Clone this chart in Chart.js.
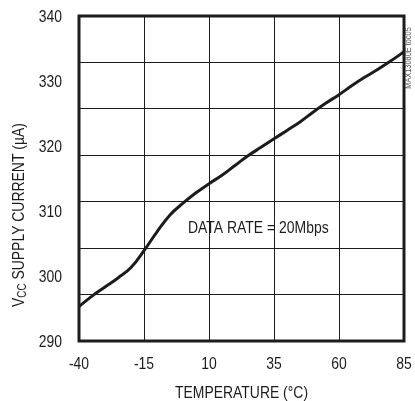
<!DOCTYPE html>
<html>
<head>
<meta charset="utf-8">
<script src="https://cdn.jsdelivr.net/npm/chart.js@4/dist/chart.umd.min.js"></script>
<style>
  html, body { margin: 0; padding: 0; background: #fff; }
  #wrap { width: 415px; height: 401px; }
</style>
</head>
<body>
<div id="wrap"><canvas id="c" width="415" height="401"></canvas></div>
<script>
// VCC supply current vs temperature (DATA RATE = 20Mbps)

const temperature = [-40, -35, -30, -25, -20, -15, -10, -5, 0, 5, 10, 15, 20,
                     25, 30, 35, 40, 45, 50, 55, 60, 65, 70, 75, 80, 85];
const supplyCurrent = [295.3, 296.9, 298.3, 299.7, 301.3, 303.9, 306.8, 309.4,
                       311.2, 312.8, 314.2, 315.5, 317.0, 318.5, 319.8, 321.1,
                       322.4, 323.7, 325.2, 326.6, 327.9, 329.3, 330.6, 331.8,
                       333.1, 334.5];

const xTicks = [-40, -15, 10, 35, 60, 85];
const yTicks = [290, 300, 310, 320, 330, 340];
const yGridDivisions = 7;   // horizontal grid doesn't line up with the labels

const FONT = '"Liberation Sans", Arial, sans-serif';
const NARROW = 0.82;        // squeeze Arial-metric glyphs to look like a narrow face
const INK = '#1c1c1c';

function narrowText(ctx, text, x, y, size, align) {
    ctx.save();
    ctx.translate(x, y);
    ctx.scale(NARROW, 1);
    ctx.font = size + 'px ' + FONT;
    ctx.textAlign = align || 'left';
    ctx.textBaseline = 'middle';
    ctx.fillText(text, 0, 0);
    ctx.restore();
}

// --- frame, tick labels, titles, note ---
const decorations = {
    id: 'decorations',
    afterDatasetsDraw(chart) {
        const { ctx, chartArea: a } = chart;
        const xs = chart.scales.x, ys = chart.scales.y;
        ctx.save();

        // heavy plot frame
        ctx.strokeStyle = INK;
        ctx.lineWidth = 3;
        ctx.strokeRect(a.left, a.top, a.right - a.left, a.bottom - a.top);

        ctx.fillStyle = INK;

        // tick labels
        xTicks.forEach(v => narrowText(ctx, String(v), xs.getPixelForValue(v), a.bottom + 23, 17, 'center'));
        yTicks.forEach(v => narrowText(ctx, String(v), a.left - 17, ys.getPixelForValue(v) + 1, 17, 'right'));

        // note inside the plot
        narrowText(ctx, 'DATA RATE = 20Mbps', 188, 228, 17, 'left');

        // x title
        narrowText(ctx, 'TEMPERATURE (\u00B0C)', (a.left + a.right) / 2, 393, 17, 'center');

        // y title with subscript
        ctx.save();
        ctx.translate(19, 215);
        ctx.rotate(-Math.PI / 2);
        ctx.scale(NARROW, 1);
        const parts = [
            { t: 'V', s: 17, dy: 0 },
            { t: 'CC', s: 12, dy: 4 },
            { t: ' SUPPLY CURRENT (\u00B5A)', s: 17, dy: 0 }
        ];
        let total = 0;
        parts.forEach(p => {
            ctx.font = p.s + 'px ' + FONT;
            p.w = ctx.measureText(p.t).width;
            total += p.w;
        });
        let x = -total / 2;
        ctx.textAlign = 'left';
        ctx.textBaseline = 'middle';
        parts.forEach(p => {
            ctx.font = p.s + 'px ' + FONT;
            ctx.fillText(p.t, x, p.dy);
            x += p.w;
        });
        ctx.restore();

        // part number, bottom-to-top at the right edge
        ctx.save();
        ctx.translate(409, 58);
        ctx.rotate(-Math.PI / 2);
        ctx.fillStyle = '#555';
        narrowText(ctx, 'MAX13080E toc05', 0, 0, 9, 'center');
        ctx.restore();

        ctx.restore();
    }
};

new Chart(document.getElementById('c').getContext('2d'), {
    type: 'line',
    data: {
        datasets: [{
            data: temperature.map((t, i) => ({ x: t, y: supplyCurrent[i] })),
            borderColor: INK,
            borderWidth: 3,
            pointRadius: 0,
            tension: 0.4,
            yAxisID: 'y'
        }]
    },
    options: {
        responsive: false,
        animation: false,
        layout: { padding: { top: 16, right: 11, left: 0, bottom: 0 } },
        plugins: {
            legend: { display: false },
            tooltip: { enabled: false }
        },
        scales: {
            x: {
                type: 'linear',
                min: -40,
                max: 85,
                afterBuildTicks: s => { s.ticks = xTicks.map(v => ({ value: v })); },
                afterFit: s => { s.height = 60; },
                grid: { color: INK, lineWidth: 1, drawTicks: false },
                border: { display: false },
                ticks: { display: false }
            },
            y: {
                type: 'linear',
                position: 'left',
                min: 290,
                max: 340,
                afterBuildTicks: s => { s.ticks = yTicks.map(v => ({ value: v })); },
                afterFit: s => { s.width = 79; },
                grid: { display: false, drawTicks: false },
                border: { display: false },
                ticks: { display: false }
            },
            yGrid: {
                type: 'linear',
                position: 'right',
                min: 0,
                max: yGridDivisions,
                afterBuildTicks: s => {
                    s.ticks = Array.from({ length: yGridDivisions + 1 }, (_, k) => ({ value: k }));
                },
                afterFit: s => { s.width = 0; },
                grid: { color: INK, lineWidth: 1, drawTicks: false },
                border: { display: false },
                ticks: { display: false }
            }
        }
    },
    plugins: [decorations]
});
</script>
</body>
</html>
